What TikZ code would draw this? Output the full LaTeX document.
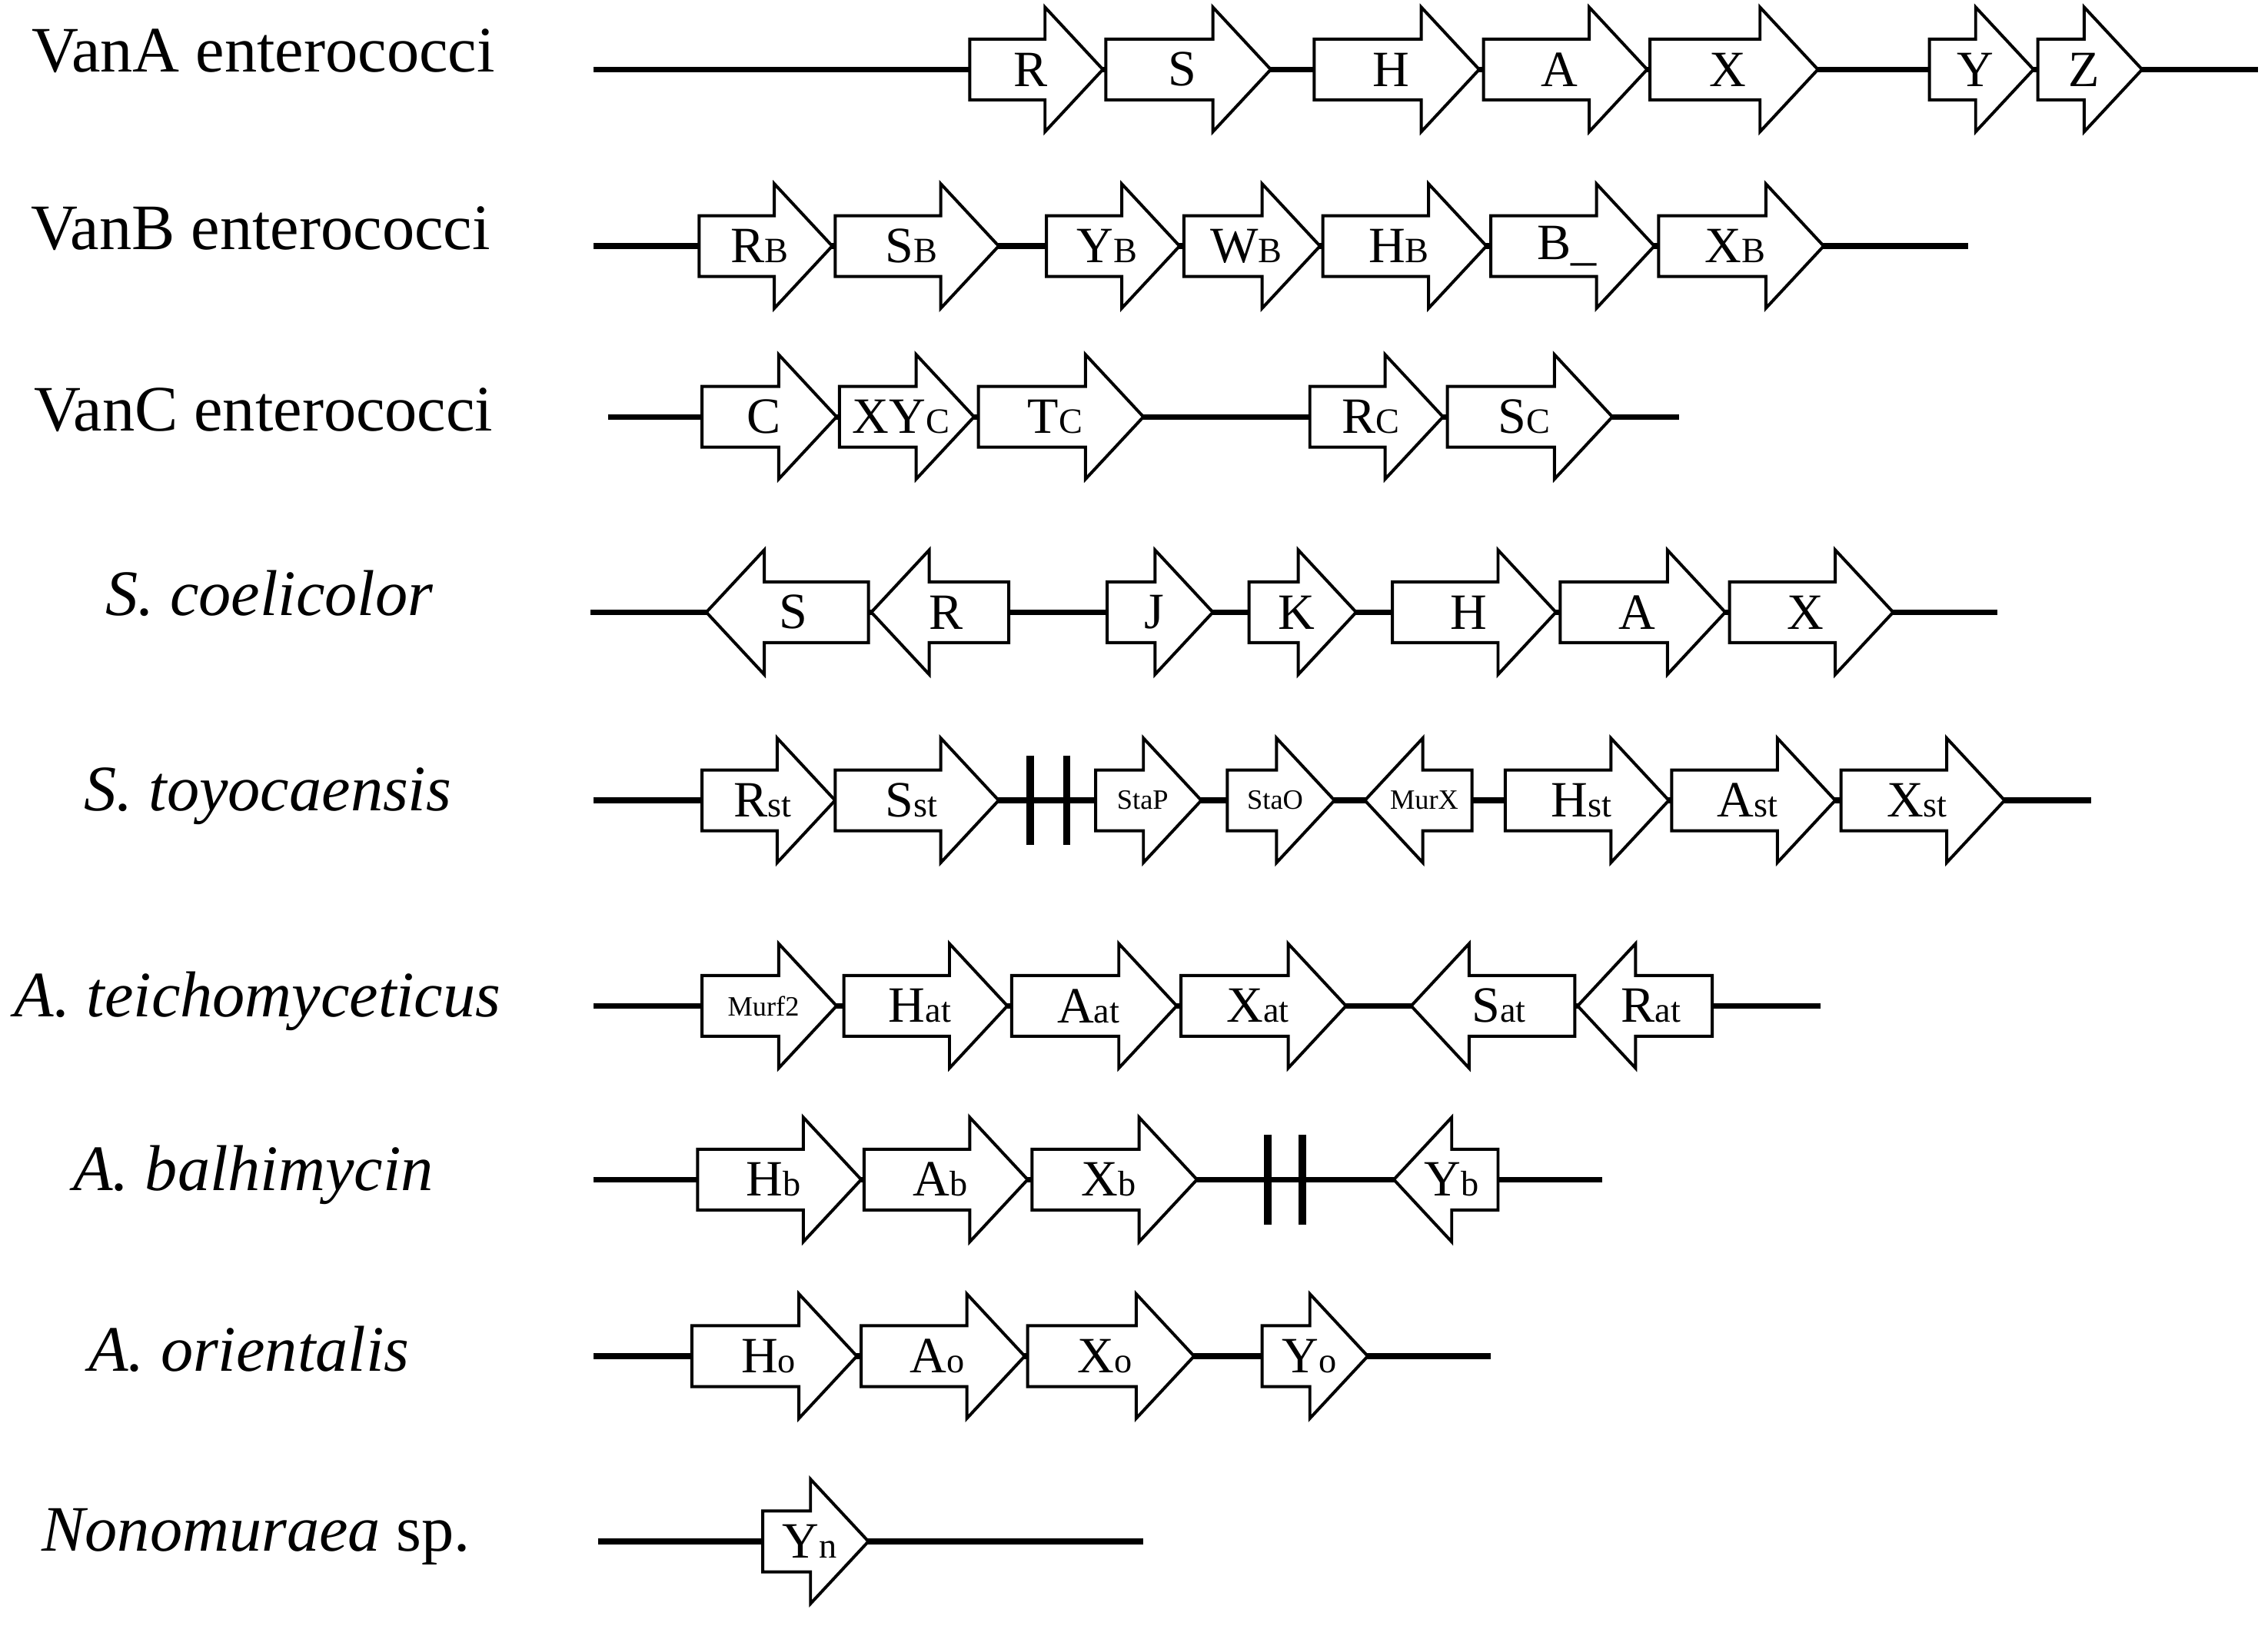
\documentclass[tikz,border=0pt]{standalone}
\usepackage{fontspec}
\setmainfont{Liberation Serif}
\tikzset{
  gene/.style={draw, fill=white, line width=1.2pt, line join=miter},
  glabel/.style={inner sep=0pt, font=\fontsize{20}{20}\selectfont},
  slabel/.style={inner sep=0pt, font=\fontsize{11}{11}\selectfont},
  backbone/.style={line width=2.2pt},
  orgname/.style={inner sep=0pt, font=\fontsize{25.5}{25.5}\selectfont}
}
% right-pointing gene: name, start, tip, row, label
\newcommand{\gene}[5]{%
  \draw[gene] (#2,#4-21) -- (#3-40,#4-21) -- (#3-40,#4-43) -- (#3,#4)
    -- (#3-40,#4+43) -- (#3-40,#4+21) -- (#2,#4+21) -- cycle;
  \node[glabel] (#1) at ({(#2+#3)/2-4},#4) {#5};}
% left-pointing gene: name, tip, end, row, label
\newcommand{\geneL}[5]{%
  \draw[gene] (#3,#4-21) -- (#2+40,#4-21) -- (#2+40,#4-43) -- (#2,#4)
    -- (#2+40,#4+43) -- (#2+40,#4+21) -- (#3,#4+21) -- cycle;
  \node[glabel] (#1) at ({(#2+#3)/2+4},#4) {#5};}
\newcommand{\sbs}[1]{{\fontsize{14}{14}\selectfont #1}}
\newcommand{\gap}[2]{%
  \draw[line width=3pt] (#1,#2-31) -- (#1,#2+31);}
\begin{document}
\begin{tikzpicture}[x=0.02cm,y=-0.02cm]
  \useasboundingbox (0,0) rectangle (1567,1123);
  % organism names
  \node[orgname] (nA) at (182,35) {VanA enterococci};
  \node[orgname] (nB) at (180,158) {VanB enterococci};
  \node[orgname] (nC) at (182,283) {VanC enterococci};
  \node[orgname] (nSc) at (186,410) {\itshape S. coelicolor};
  \node[orgname] (nSt) at (185,550) {\itshape S. toyocaensis};
  \node[orgname] (nAt) at (178,692) {\itshape A. teichomyceticus};
  \node[orgname] (nAb) at (175,812) {\itshape A. balhimycin};
  \node[orgname] (nAo) at (172,932) {\itshape A. orientalis};
  \node[orgname] (nN) at (177,1062) {\textit{Nonomuraea} sp.};
  % VanA
  \draw[backbone] (410,48) -- (1560,48);
  \gene{aR}{670}{762}{48}{R}
  \gene{aS}{764}{878}{48}{S}
  \gene{aH}{908}{1022}{48}{H}
  \gene{aA}{1025}{1138}{48}{A}
  \gene{aX}{1140}{1256}{48}{X}
  \gene{aY}{1333}{1405}{48}{Y}
  \gene{aZ}{1408}{1480}{48}{Z}
  % VanB
  \draw[backbone] (410,170) -- (1360,170);
  \gene{bR}{483}{575}{170}{R\sbs{B}}
  \gene{bS}{577}{690}{170}{S\sbs{B}}
  \gene{bY}{723}{815}{170}{Y\sbs{B}}
  \gene{bW}{818}{912}{170}{W\sbs{B}}
  \gene{bH}{914}{1027}{170}{H\sbs{B}}
  \gene{bB}{1030}{1143}{170}{B\_}
  \gene{bX}{1146}{1260}{170}{X\sbs{B}}
  % VanC
  \draw[backbone] (420,288) -- (1160,288);
  \gene{cC}{485}{578}{288}{C}
  \gene{cXY}{580}{673}{288}{XY\sbs{C}}
  \gene{cT}{676}{790}{288}{T\sbs{C}}
  \gene{cR}{905}{997}{288}{R\sbs{C}}
  \gene{cS}{1000}{1114}{288}{S\sbs{C}}
  % S. coelicolor
  \draw[backbone] (408,423) -- (1380,423);
  \geneL{scS}{488}{600}{423}{S}
  \geneL{scR}{602}{697}{423}{R}
  \gene{scJ}{765}{838}{423}{J}
  \gene{scK}{863}{937}{423}{K}
  \gene{scH}{962}{1075}{423}{H}
  \gene{scA}{1078}{1192}{423}{A}
  \gene{scX}{1195}{1308}{423}{X}
  % S. toyocaensis
  \draw[backbone] (410,553) -- (1445,553);
  \gap{712}{553}
  \gap{737}{553}
  \gene{stR}{485}{577}{553}{R\sbs{st}}
  \gene{stS}{577}{690}{553}{S\sbs{st}}
  \gene{stP}{757}{830}{553}{}
  \node[slabel] at (stP) {StaP};
  \gene{stO}{848}{922}{553}{}
  \node[slabel] at (stO) {StaO};
  \geneL{stM}{943}{1017}{553}{}
  \node[slabel] at (stM) {MurX};
  \gene{stH}{1040}{1153}{553}{H\sbs{st}}
  \gene{stA}{1155}{1268}{553}{A\sbs{st}}
  \gene{stX}{1272}{1385}{553}{X\sbs{st}}
  % A. teichomyceticus
  \draw[backbone] (410,695) -- (1258,695);
  \gene{atM}{485}{578}{695}{}
  \node[slabel] at (atM) {Murf2};
  \gene{atH}{583}{696}{695}{H\sbs{at}}
  \gene{atA}{699}{813}{695}{A\sbs{at}}
  \gene{atX}{816}{930}{695}{X\sbs{at}}
  \geneL{atS}{975}{1088}{695}{S\sbs{at}}
  \geneL{atR}{1090}{1183}{695}{R\sbs{at}}
  % A. balhimycin
  \draw[backbone] (410,815) -- (1107,815);
  \gap{876}{815}
  \gap{900}{815}
  \gene{abH}{482}{595}{815}{H\sbs{b}}
  \gene{abA}{597}{710}{815}{A\sbs{b}}
  \gene{abX}{713}{827}{815}{X\sbs{b}}
  \geneL{abY}{963}{1035}{815}{Y\sbs{b}}
  % A. orientalis
  \draw[backbone] (410,937) -- (1030,937);
  \gene{aoH}{478}{592}{937}{H\sbs{o}}
  \gene{aoA}{595}{708}{937}{A\sbs{o}}
  \gene{aoX}{710}{825}{937}{X\sbs{o}}
  \gene{aoY}{872}{945}{937}{Y\sbs{o}}
  % Nonomuraea
  \draw[backbone] (413,1065) -- (790,1065);
  \gene{nY}{527}{600}{1065}{Y\sbs{n}}
\end{tikzpicture}
\end{document}
